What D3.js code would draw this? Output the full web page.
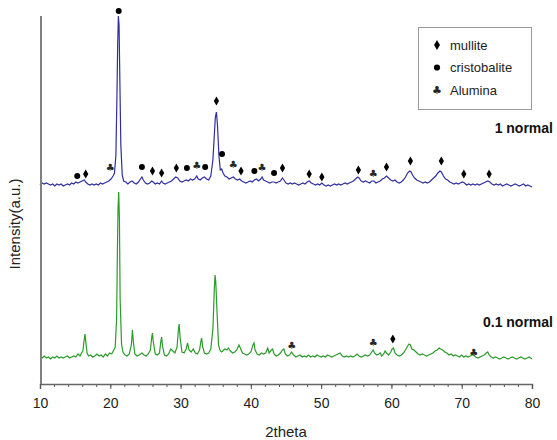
<!DOCTYPE html>
<html>
<head>
<meta charset="utf-8">
<script src="https://cdn.jsdelivr.net/npm/d3@7"></script>
<style>
    body { margin: 0; background: #fff; }
    svg { display: block; font-family: "Liberation Sans", Arial, sans-serif; }
</style>
</head>
<body>
<div class="xrd-visualization"></div>
<script>
// XRD patterns: [2theta, intensity above own baseline]
const pattern_01 = [
    [10.0,2],[10.3,1],[10.6,3],[10.9,1],[11.2,2],[11.5,0],[11.8,2],[12.1,1],[12.4,3],[12.7,1],
    [13.0,2],[13.3,1],[13.6,2],[13.9,3],[14.2,1],[14.5,2],[14.8,3],[15.1,2],[15.4,5],[15.7,3],
    [15.9,6],[16.1,8],[16.3,20],[16.4,25],[16.5,18],[16.7,6],[16.9,3],[17.2,4],[17.5,2],[17.8,3],
    [18.1,5],[18.4,3],[18.7,4],[19.0,2],[19.3,5],[19.6,3],[19.9,6],[20.2,5],[20.5,9],[20.7,12],
    [20.9,40],[21.0,100],[21.1,150],[21.2,167],[21.3,140],[21.4,60],[21.6,15],[21.8,7],[22.1,4],[22.4,3],
    [22.7,5],[23.0,14],[23.15,29],[23.3,16],[23.5,5],[23.8,3],[24.1,4],[24.5,6],[24.8,4],[25.1,3],
    [25.4,5],[25.7,9],[25.9,22],[26.0,26],[26.1,18],[26.4,5],[26.7,4],[27.0,6],[27.2,18],[27.3,22],
    [27.45,12],[27.7,4],[28.0,3],[28.3,5],[28.6,10],[28.9,8],[29.2,6],[29.5,12],[29.7,30],[29.8,35],
    [29.95,20],[30.2,7],[30.5,6],[30.8,10],[31.0,16],[31.2,9],[31.5,7],[31.8,10],[32.1,6],[32.4,5],
    [32.7,9],[32.9,18],[33.0,21],[33.15,12],[33.4,6],[33.7,5],[34.0,6],[34.3,10],[34.6,30],[34.8,70],
    [34.9,84],[35.0,78],[35.2,45],[35.4,14],[35.6,9],[35.8,7],[36.0,8],[36.3,10],[36.6,9],[36.8,11],
    [37.1,8],[37.4,6],[37.7,7],[38.0,9],[38.3,14],[38.5,11],[38.8,6],[39.1,5],[39.4,4],[39.7,5],
    [40.0,7],[40.3,14],[40.45,16],[40.6,9],[40.9,5],[41.2,4],[41.5,6],[41.8,5],[42.1,6],[42.4,11],
    [42.6,6],[42.9,9],[43.1,10],[43.3,5],[43.6,3],[43.9,4],[44.2,6],[44.5,9],[44.7,10],[44.9,5],
    [45.2,3],[45.5,4],[45.8,7],[46.1,4],[46.4,2],[46.7,3],[47.0,4],[47.3,2],[47.6,3],[47.9,2],
    [48.2,4],[48.5,2],[48.8,3],[49.1,2],[49.4,4],[49.7,3],[50.0,2],[50.3,3],[50.6,2],[50.9,4],
    [51.2,3],[51.5,2],[51.8,3],[52.1,4],[52.4,5],[52.7,6],[53.0,3],[53.3,2],[53.6,3],[53.9,2],
    [54.2,3],[54.5,2],[54.8,3],[55.1,5],[55.4,3],[55.7,2],[56.0,3],[56.3,4],[56.6,3],[56.9,4],
    [57.2,7],[57.4,9],[57.6,6],[57.9,4],[58.2,5],[58.4,6],[58.6,3],[58.9,5],[59.1,8],[59.3,6],
    [59.6,4],[59.9,7],[60.1,10],[60.3,11],[60.5,6],[60.8,4],[61.1,3],[61.4,4],[61.7,6],[62.0,9],
    [62.3,13],[62.5,15],[62.7,14],[62.9,10],[63.2,9],[63.5,7],[63.8,5],[64.1,4],[64.4,5],[64.7,4],
    [65.0,3],[65.3,4],[65.6,5],[65.9,6],[66.2,8],[66.5,9],[66.8,11],[67.0,10],[67.3,9],[67.6,7],
    [67.9,6],[68.2,4],[68.5,5],[68.8,3],[69.1,4],[69.4,3],[69.7,2],[70.0,4],[70.3,2],[70.6,3],
    [70.9,2],[71.2,3],[71.5,4],[71.7,4],[72.0,2],[72.3,1],[72.6,2],[72.9,3],[73.2,4],[73.5,6],
    [73.7,7],[73.9,4],[74.2,2],[74.5,1],[74.8,2],[75.1,1],[75.4,0],[75.7,1],[76.0,2],[76.3,1],
    [76.6,0],[76.9,1],[77.2,2],[77.5,1],[77.8,0],[78.1,1],[78.4,2],[78.7,1],[79.0,0],[79.3,1],
    [79.6,2],[80.0,0]
];

const pattern_1 = [
    [10.0,0],[10.3,2],[10.6,1],[10.9,2],[11.2,1],[11.5,0],[11.8,1],[12.1,-1],[12.4,1],[12.7,0],
    [13.0,1],[13.3,-1],[13.6,0],[13.9,1],[14.2,0],[14.5,2],[14.8,1],[15.1,3],[15.4,2],[15.7,3],
    [16.0,4],[16.3,5],[16.5,3],[16.8,1],[17.1,0],[17.4,1],[17.7,0],[18.0,1],[18.3,0],[18.6,2],
    [18.9,1],[19.2,2],[19.5,3],[19.8,4],[20.1,6],[20.4,9],[20.6,12],[20.8,30],[20.95,90],[21.05,140],
    [21.15,169],[21.25,160],[21.35,110],[21.5,40],[21.7,10],[21.9,4],[22.2,3],[22.5,1],[22.8,3],[23.1,4],
    [23.4,2],[23.7,1],[24.0,3],[24.3,6],[24.5,8],[24.7,5],[25.0,2],[25.3,1],[25.6,2],[25.9,4],
    [26.1,3],[26.4,1],[26.7,2],[27.0,1],[27.3,4],[27.5,2],[27.8,1],[28.1,2],[28.4,3],[28.7,4],
    [29.0,6],[29.3,8],[29.6,7],[29.9,4],[30.2,3],[30.5,4],[30.8,5],[31.1,4],[31.4,6],[31.7,5],
    [32.0,6],[32.3,9],[32.5,6],[32.8,5],[33.1,7],[33.4,8],[33.7,6],[34.0,5],[34.3,9],[34.6,25],
    [34.8,50],[34.95,68],[35.1,73],[35.25,60],[35.45,30],[35.65,15],[35.85,16],[36.05,12],[36.3,9],[36.6,8],
    [36.9,6],[37.2,7],[37.5,8],[37.8,6],[38.1,5],[38.4,6],[38.7,4],[39.0,3],[39.3,2],[39.6,3],
    [39.9,4],[40.2,3],[40.5,5],[40.8,6],[41.1,4],[41.4,6],[41.6,8],[41.8,5],[42.1,4],[42.4,3],
    [42.7,2],[43.0,3],[43.3,3],[43.6,2],[43.9,3],[44.2,4],[44.5,7],[44.7,5],[45.0,2],[45.3,1],
    [45.6,2],[45.9,1],[46.2,2],[46.5,1],[46.8,0],[47.1,1],[47.4,2],[47.7,1],[48.0,3],[48.3,4],
    [48.6,2],[48.9,1],[49.2,0],[49.5,1],[49.8,0],[50.1,2],[50.4,0],[50.7,-1],[51.0,0],[51.3,-1],
    [51.6,0],[51.9,1],[52.2,0],[52.5,1],[52.8,0],[53.1,1],[53.4,2],[53.7,1],[54.0,2],[54.3,3],
    [54.6,4],[54.9,6],[55.2,8],[55.4,7],[55.7,4],[56.0,3],[56.3,4],[56.6,3],[56.9,2],[57.2,4],
    [57.5,4],[57.8,2],[58.1,3],[58.4,4],[58.7,6],[59.0,7],[59.3,9],[59.6,7],[59.9,5],[60.2,4],
    [60.5,5],[60.8,3],[61.1,2],[61.4,3],[61.7,5],[62.0,8],[62.3,12],[62.6,14],[62.8,13],[63.0,10],
    [63.3,7],[63.6,5],[63.9,4],[64.2,3],[64.5,2],[64.8,3],[65.1,2],[65.4,3],[65.7,5],[66.0,7],
    [66.3,9],[66.6,12],[66.9,14],[67.1,13],[67.4,9],[67.7,6],[68.0,5],[68.3,3],[68.6,2],[68.9,1],
    [69.2,2],[69.5,1],[69.8,2],[70.1,3],[70.4,2],[70.7,0],[71.0,1],[71.3,0],[71.6,1],[71.9,0],
    [72.2,1],[72.5,0],[72.8,1],[73.1,2],[73.4,3],[73.7,4],[74.0,3],[74.3,1],[74.6,0],[74.9,1],
    [75.2,0],[75.5,1],[75.8,-1],[76.1,0],[76.4,1],[76.7,0],[77.0,-1],[77.3,0],[77.6,1],[77.9,0],
    [78.2,-1],[78.5,0],[78.8,1],[79.1,-1],[79.4,0],[79.7,-1],[80.0,-2]
];

// phase marks: [2theta, phase, level in the same units as the pattern]
const marks_1 = [
    [15.3,"cristobalite",9],[16.5,"mullite",11],[20.0,"Alumina",18],[21.2,"cristobalite",174],
    [24.5,"cristobalite",18],[26.0,"mullite",14],[27.3,"mullite",12],[29.4,"mullite",17],
    [30.9,"cristobalite",17],[32.3,"Alumina",20],[33.5,"cristobalite",18],[35.1,"mullite",84],
    [35.9,"cristobalite",31],[37.5,"Alumina",21],[38.6,"mullite",14],[40.5,"cristobalite",14],
    [41.6,"Alumina",18],[43.3,"cristobalite",12],[44.5,"mullite",17],[48.3,"mullite",11],
    [50.1,"mullite",8],[55.3,"mullite",15],[57.4,"Alumina",12],[59.3,"mullite",18],
    [62.7,"mullite",24],[67.1,"mullite",24],[70.3,"mullite",11],[73.9,"mullite",11]
];
const marks_01 = [
    [45.8,"Alumina",14],[57.4,"Alumina",17],[60.2,"mullite",20],[71.7,"Alumina",7]
];

const phases = ["mullite", "cristobalite", "Alumina"];
const xTicks = [10, 20, 30, 40, 50, 60, 70, 80];
const xMinorTicks = d3.range(10, 81, 2);

const width = 557;
const height = 440;
const blueColor = "#2f2fa2";
const greenColor = "#2b9b2b";
// vertical shift of the upper pattern, same units as the patterns
const stackOffset = 174;

const svg = d3.select(".xrd-visualization")
    .append("svg")
    .attr("width", width)
    .attr("height", height);

const xScale = d3.scaleLinear().domain([10, 80]).range([40, 532]);
// one unit of intensity is one pixel, 0 is the lower baseline
const yScale = d3.scaleLinear().domain([0, 343]).range([359, 16]);

// little helper for the three phase symbols
function drawMark(g, phase, x, y, big) {
    if (phase === "Alumina") {
        g.append("text")
            .attr("x", x)
            .attr("y", y + 3.5)
            .attr("text-anchor", "middle")
            .style("font-family", "DejaVu Sans")
            .style("font-size", big ? "11px" : "10px")
            .style("fill", "#262626")
            .text("\u2663");
    } else {
        const type = phase === "mullite" ? d3.symbolDiamond : d3.symbolCircle;
        const size = phase === "mullite" ? (big ? 30 : 24) : (big ? 30 : 28);
        g.append("path")
            .attr("d", d3.symbol().type(type).size(size))
            .attr("transform", `translate(${x},${y})`)
            .style("fill", "#000");
    }
}

const lineGen = (offset) => d3.line()
    .x(d => xScale(d[0]))
    .y(d => yScale(d[1] + offset));

// the two patterns
svg.append("path")
    .datum(pattern_1)
    .attr("d", lineGen(stackOffset))
    .style("fill", "none")
    .style("stroke", blueColor)
    .style("stroke-width", 1.2);

svg.append("path")
    .datum(pattern_01)
    .attr("d", lineGen(0))
    .style("fill", "none")
    .style("stroke", greenColor)
    .style("stroke-width", 1.2);

// phase marks above the peaks
const markLayer = svg.append("g");
marks_1.forEach(m => drawMark(markLayer, m[1], xScale(m[0]), yScale(m[2] + stackOffset)));
marks_01.forEach(m => drawMark(markLayer, m[1], xScale(m[0]), yScale(m[2])));

// x axis with minor ticks
const xAxisG = svg.append("g").attr("transform", "translate(0,384)");
xAxisG.call(d3.axisBottom(xScale).tickValues(xMinorTicks).tickSize(3).tickFormat(""));
xAxisG.call(g => g.select(".domain").remove());
const xMajor = svg.append("g").attr("transform", "translate(0,384)")
    .call(d3.axisBottom(xScale).tickValues(xTicks).tickSize(5).tickPadding(9).tickFormat(d3.format("d")));
svg.selectAll(".tick line").style("stroke", "#555");
xMajor.select(".domain").style("stroke", "#666").style("stroke-width", 1.5);
xMajor.selectAll("text")
    .style("font-family", "Liberation Sans, Arial, sans-serif")
    .style("font-size", "14px")
    .style("fill", "#222");

// y axis is only a line, no ticks
svg.append("line")
    .attr("x1", 41).attr("x2", 41)
    .attr("y1", 16).attr("y2", 384)
    .style("stroke", "#808080")
    .style("stroke-width", 2);

svg.append("text")
    .attr("x", 286)
    .attr("y", 437)
    .attr("text-anchor", "middle")
    .style("font-size", "15px")
    .style("fill", "#222")
    .text("2theta");

svg.append("text")
    .attr("transform", "translate(20,224) rotate(-90)")
    .attr("text-anchor", "middle")
    .style("font-size", "15px")
    .style("fill", "#222")
    .text("Intensity(a.u.)");

// pattern names
svg.append("text")
    .attr("x", 553).attr("y", 133)
    .attr("text-anchor", "end")
    .style("font-size", "14px")
    .style("font-weight", "bold")
    .style("fill", "#111")
    .text("1 normal");

svg.append("text")
    .attr("x", 553).attr("y", 327)
    .attr("text-anchor", "end")
    .style("font-size", "14px")
    .style("font-weight", "bold")
    .style("fill", "#111")
    .text("0.1 normal");

// legend
svg.append("rect")
    .attr("x", 418.5).attr("y", 27.5)
    .attr("width", 113).attr("height", 82)
    .style("fill", "#fff")
    .style("stroke", "#999");

phases.forEach((p, i) => {
    const ly = 45 + i * 22.5;
    drawMark(svg, p, 437, ly, true);
    svg.append("text")
        .attr("x", 450).attr("y", ly + 4.5)
        .style("font-size", "13px")
        .style("fill", "#222")
        .text(p);
});
</script>
</body>
</html>
